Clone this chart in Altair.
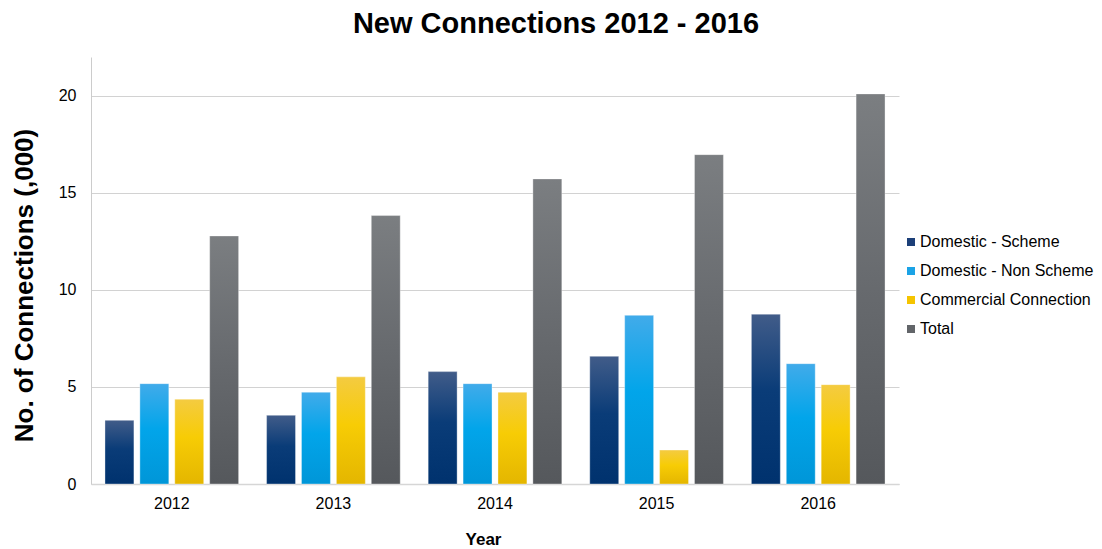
import altair as alt
import pandas as pd

# New connections per year, in thousands
years = ["2012", "2013", "2014", "2015", "2016"]
series = ["Domestic - Scheme", "Domestic - Non Scheme", "Commercial Connection", "Total"]
domestic_scheme = [3.28, 3.54, 5.79, 6.58, 8.75]
domestic_non_scheme = [5.17, 4.73, 5.17, 8.69, 6.20]
commercial = [4.37, 5.52, 4.73, 1.75, 5.12]
total = [12.78, 13.83, 15.72, 16.97, 20.10]

# flat swatch colours for the legend, gradient stops for the bars
legend_colors = ["#1c3f78", "#1ba3e6", "#f5c400", "#626569"]
gradients = [
    [("#415c89", 0.0), ("#0a3c78", 0.45), ("#00326e", 1.0)],
    [("#41abea", 0.0), ("#02a5ea", 0.45), ("#0096d8", 1.0)],
    [("#f4cb41", 0.0), ("#f7cc05", 0.45), ("#e4b600", 1.0)],
    [("#7b7e81", 0.0), ("#676a6e", 0.5), ("#55585c", 1.0)],
]

values = [domestic_scheme, domestic_non_scheme, commercial, total]
df = pd.DataFrame(
    [
        {"Year": y, "Series": s, "Value": v}
        for s, vals in zip(series, values)
        for y, v in zip(years, vals)
    ]
)

FONT = "Liberation Sans"

x_enc = alt.X(
    "Year:N",
    sort=years,
    scale=alt.Scale(paddingInner=0.173, paddingOuter=0.0865),
    axis=alt.Axis(
        title="Year",
        titleFontSize=17,
        titleFontWeight="bold",
        titleColor="#000000",
        titleBaseline="alphabetic",
        titleX=392,
        titleY=60,
        titleAlign="center",
        labelAngle=0,
        labelFontSize=16,
        labelColor="#000000",
        labelBaseline="alphabetic",
        labelPadding=24,
        ticks=False,
        tickSize=0,
        domainColor="#d6d6d6",
        domainWidth=1.5,
        grid=False,
    ),
)
xoff_enc = alt.XOffset(
    "Series:N",
    sort=series,
    scale=alt.Scale(domain=series, paddingInner=0.171, paddingOuter=0),
)
y_enc = alt.Y(
    "Value:Q",
    scale=alt.Scale(domain=[0, 22], nice=False),
    axis=alt.Axis(
        title="No. of Connections (,000)",
        titleFontSize=26,
        titleFontWeight="bold",
        titleColor="#000000",
        titleAngle=270,
        titleBaseline="alphabetic",
        titleAlign="center",
        titleX=-59,
        titleY=228,
        values=[0, 5, 10, 15, 20],
        labelFontSize=16,
        labelColor="#000000",
        labelPadding=15,
        ticks=False,
        tickSize=0,
        domainColor="#cccccc",
        domainWidth=1,
        grid=True,
        gridColor="#d2d2d2",
        gridWidth=1,
    ),
)

base = alt.Chart(df)

layers = []
for name, stops in zip(series, gradients):
    grad = alt.LinearGradient(
        gradient="linear",
        stops=[alt.GradientStop(color=c, offset=o) for c, o in stops],
        x1=0, x2=0, y1=0, y2=1,
    )
    layers.append(
        base.transform_filter(alt.datum.Series == name)
        .mark_bar(color=grad, stroke="#ffffff", strokeOpacity=0.35, strokeWidth=1)
        .encode(x=x_enc, xOffset=xoff_enc, y=y_enc)
    )

# invisible layer carrying the colour legend
legend_layer = base.mark_square(opacity=0, size=1).encode(
    x=x_enc,
    xOffset=xoff_enc,
    y=y_enc,
    color=alt.Color(
        "Series:N",
        sort=series,
        scale=alt.Scale(domain=series, range=legend_colors),
        legend=alt.Legend(
            title=None,
            orient="none",
            legendX=812,
            legendY=177,
            symbolType="square",
            symbolSize=64,
            symbolOpacity=1,
            symbolStrokeWidth=0,
            labelFontSize=16,
            labelColor="#000000",
            labelOffset=1,
            labelLimit=400,
            rowPadding=13,
            padding=0,
        ),
    ),
)

chart = (
    alt.layer(*layers, legend_layer)
    .properties(
        width=808,
        height=427,
        autosize=alt.AutoSizeParams(type="none"),
        padding={"left": 91, "top": 57, "right": 203, "bottom": 65},
        title=alt.TitleParams(
            text="New Connections 2012 - 2016",
            fontSize=29,
            fontWeight="bold",
            color="#000000",
            font=FONT,
            anchor="middle",
            baseline="alphabetic",
            offset=24,
            dx=61,
            dy=29,
        ),
    )
    .configure(font=FONT, background="#ffffff")
    .configure_view(stroke=None)
    .configure_axis(labelFont=FONT, titleFont=FONT)
    .configure_legend(labelFont=FONT)
)

chart.save("out.html", embed_options={"renderer": "svg", "actions": False})
